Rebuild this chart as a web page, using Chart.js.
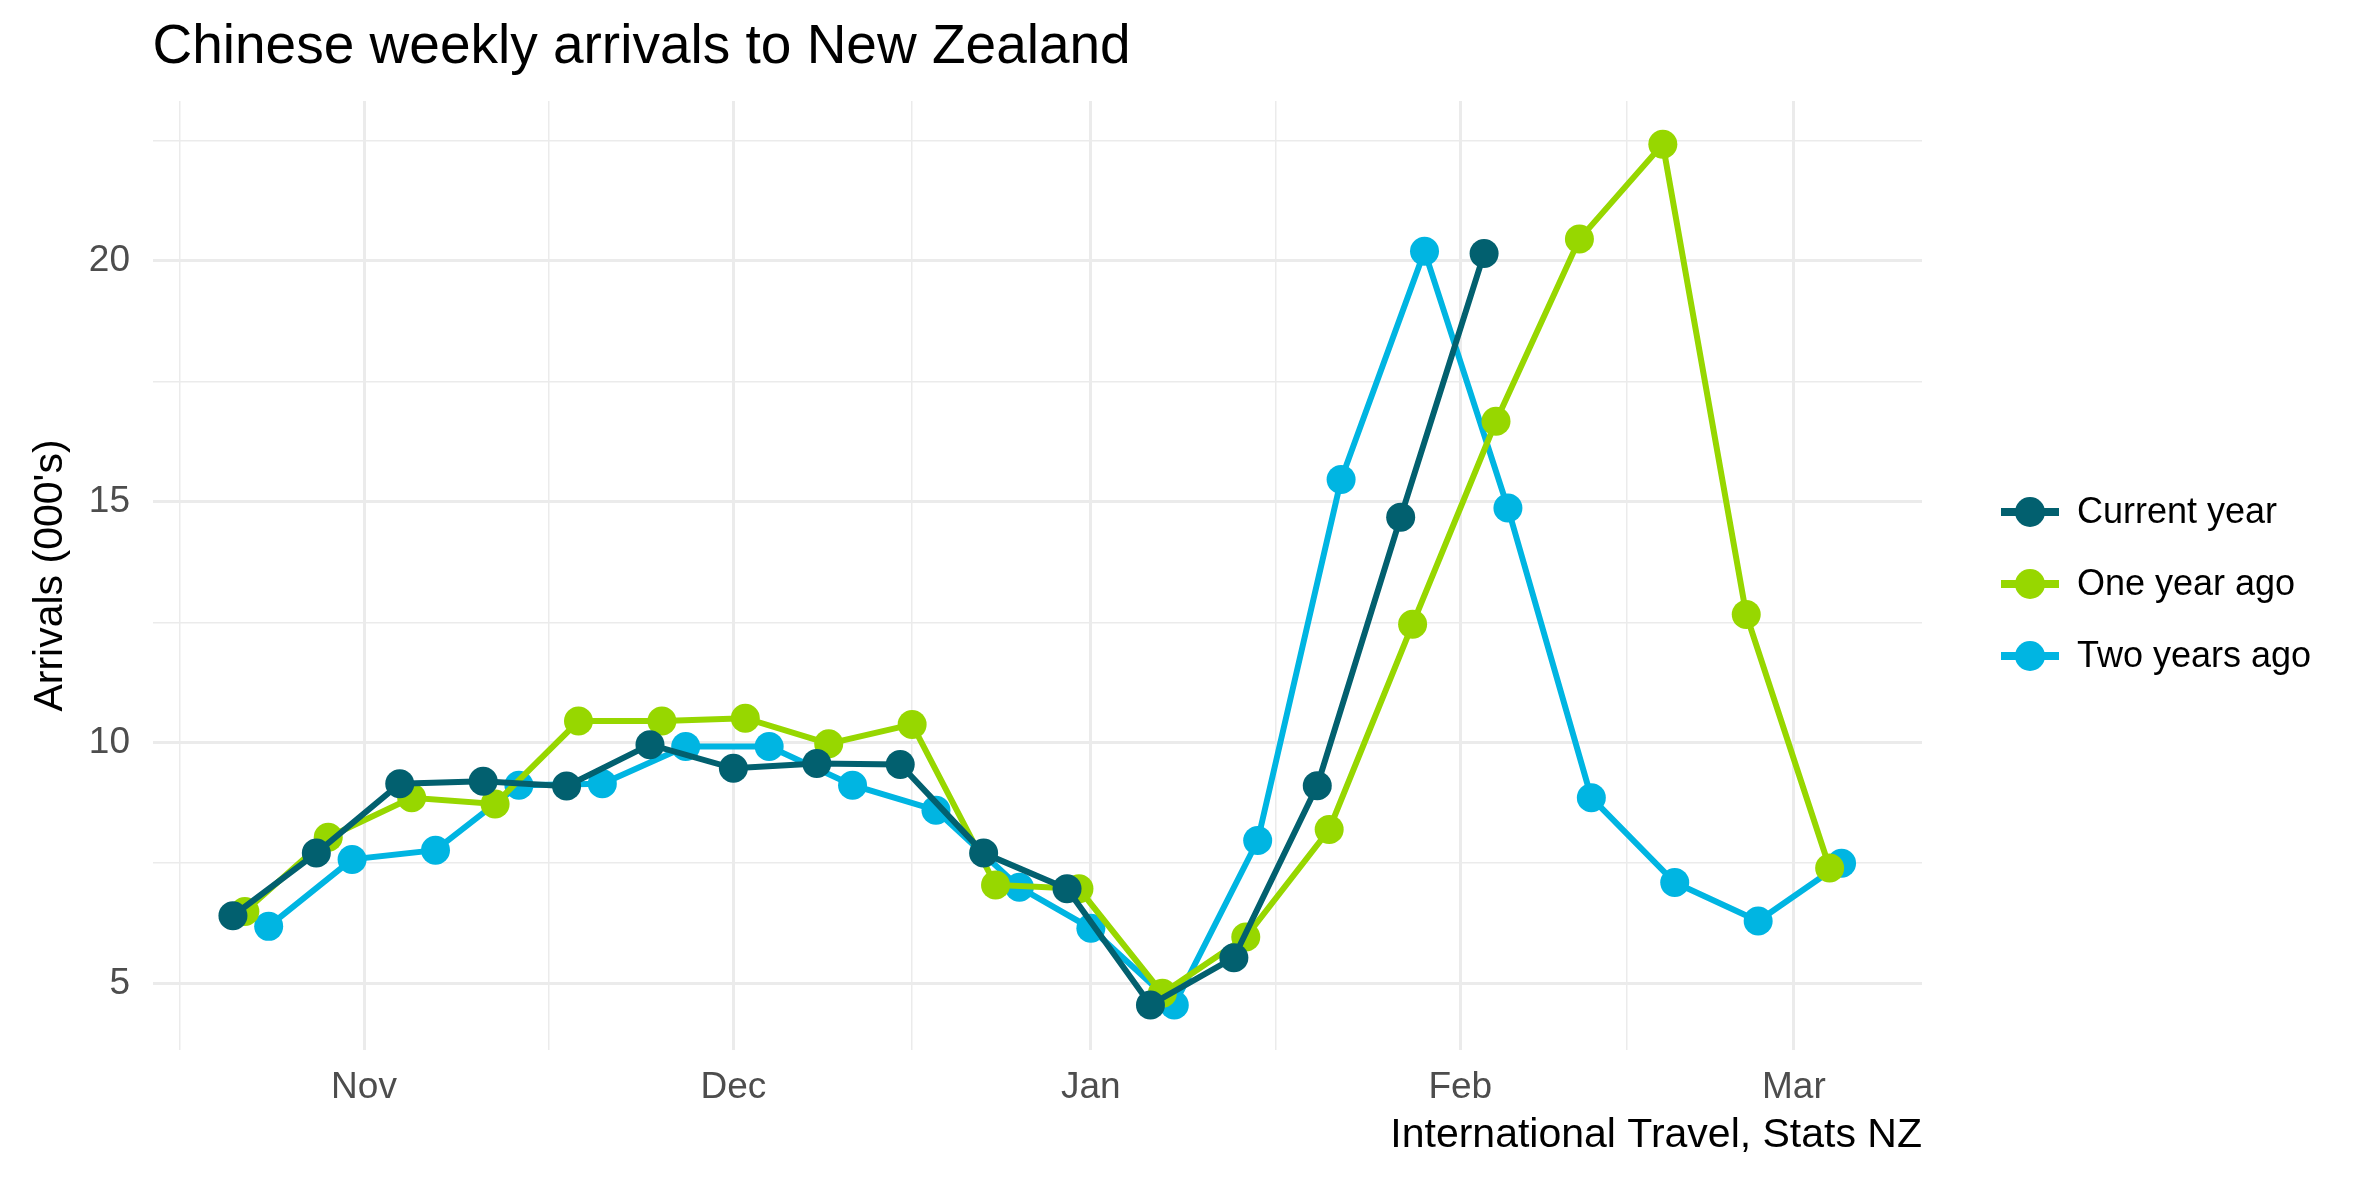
<!DOCTYPE html>
<html>
<head>
<meta charset="utf-8">
<script src="https://cdn.jsdelivr.net/npm/chart.js@4.4.0/dist/chart.umd.min.js"></script>
<style>
  html, body { margin: 0; padding: 0; background: #fff; }
  canvas { display: block; }
</style>
</head>
<body>
<canvas id="arrivals" width="2362" height="1181"></canvas>
<script>
// x values are days counted from the "Nov" gridline
const currentX = [-11, -4, 3, 10, 17, 24, 31, 38, 45, 52, 59, 66, 73, 80, 87, 94];
const currentY = [6.41, 7.71, 9.15, 9.20, 9.10, 9.96, 9.47, 9.57, 9.55, 7.71, 6.97, 4.56, 5.54, 9.11, 14.68, 20.15];

const oneYearX = [-10, -3, 4, 11, 18, 25, 32, 39, 46, 53, 60, 67, 74, 81, 88, 95, 102, 109, 116, 123];
const oneYearY = [6.50, 8.04, 8.86, 8.73, 10.45, 10.45, 10.51, 9.98, 10.38, 7.05, 6.97, 4.80, 5.97, 8.20, 12.46, 16.67, 20.45, 22.42, 12.66, 7.40];

const twoYearsX = [-8, -1, 6, 13, 20, 27, 34, 41, 48, 55, 61, 68, 75, 82, 89, 96, 103, 110, 117, 124];
const twoYearsY = [6.19, 7.58, 7.77, 9.12, 9.15, 9.92, 9.92, 9.12, 8.60, 7.00, 6.15, 4.56, 7.97, 15.46, 20.20, 14.87, 8.86, 7.10, 6.30, 7.50];

const seriesNames = ['Current year', 'One year ago', 'Two years ago'];
const seriesColors = ['#02606F', '#97D700', '#00B5E2'];

const xTickValues = [0, 31, 61, 92, 120];
const xTickLabels = ['Nov', 'Dec', 'Jan', 'Feb', 'Mar'];
const xMinorValues = [-15.5, 15.5, 46, 76.5, 106];

const yTickValues = [5, 10, 15, 20];
const yMinorValues = [7.5, 12.5, 17.5, 22.5];

const FONT = '"Liberation Sans", Arial, sans-serif';
const GRID = '#EBEBEB';

function toPoints(xs, ys) {
  return xs.map((x, i) => ({ x, y: ys[i] }));
}

function makeDataset(i, xs, ys) {
  return {
    label: seriesNames[i],
    data: toPoints(xs, ys),
    borderColor: seriesColors[i],
    backgroundColor: seriesColors[i],
    borderWidth: 6,
    pointRadius: 14.5,
    pointHoverRadius: 14.5,
    pointBorderWidth: 0,
    tension: 0
  };
}

// ggplot-like legend on the right: line with a dot, then the label
const sideLegend = {
  id: 'sideLegend',
  afterDraw(chart) {
    const ctx = chart.ctx;
    ctx.save();
    chart.data.datasets.forEach((ds, i) => {
      const y = 512 + i * 72;
      ctx.strokeStyle = ds.borderColor;
      ctx.lineWidth = 8;
      ctx.beginPath();
      ctx.moveTo(2001, y);
      ctx.lineTo(2059, y);
      ctx.stroke();
      ctx.fillStyle = ds.borderColor;
      ctx.beginPath();
      ctx.arc(2030, y, 15, 0, Math.PI * 2);
      ctx.fill();
      ctx.fillStyle = '#000';
      ctx.font = '36px ' + FONT;
      ctx.textAlign = 'left';
      ctx.textBaseline = 'middle';
      ctx.fillText(ds.label, 2077, y + 1);
    });
    ctx.restore();
  }
};

new Chart(document.getElementById('arrivals'), {
  type: 'line',
  data: {
    datasets: [
      makeDataset(0, currentX, currentY),
      makeDataset(1, oneYearX, oneYearY),
      makeDataset(2, twoYearsX, twoYearsY)
    ]
  },
  options: {
    responsive: false,
    animation: false,
    devicePixelRatio: 1,
    layout: { padding: { left: 0, top: 0, right: 440, bottom: 0 } },
    plugins: {
      legend: { display: false },
      tooltip: { enabled: false },
      title: {
        display: true,
        text: 'Chinese weekly arrivals to New Zealand',
        align: 'start',
        fullSize: false,
        color: '#000',
        font: { family: FONT, size: 55, weight: 'normal', lineHeight: 1.2 },
        padding: { top: 15, bottom: 20 }
      }
    },
    scales: {
      x: {
        type: 'linear',
        min: -17.75,
        max: 130.75,
        afterFit: s => { s.height = 131; },
        afterBuildTicks: s => {
          s.ticks = xTickValues.concat(xMinorValues).sort((a, b) => a - b).map(v => ({ value: v }));
        },
        ticks: {
          autoSkip: false,
          maxRotation: 0,
          padding: 16,
          color: '#4D4D4D',
          font: { family: FONT, size: 37 },
          callback: v => {
            const k = xTickValues.indexOf(v);
            return k >= 0 ? xTickLabels[k] : '';
          }
        },
        grid: {
          color: GRID,
          drawTicks: false,
          lineWidth: c => (xTickValues.includes(c.tick.value) ? 3 : 1.5)
        },
        border: { display: false },
        title: {
          display: true,
          text: 'International Travel, Stats NZ',
          align: 'end',
          color: '#000',
          font: { family: FONT, size: 41, lineHeight: 1.2 },
          padding: { top: 0, bottom: 21 }
        }
      },
      y: {
        type: 'linear',
        min: 3.625,
        max: 23.315,
        afterFit: s => { s.width = 152.5; },
        afterBuildTicks: s => {
          s.ticks = yTickValues.concat(yMinorValues).sort((a, b) => a - b).map(v => ({ value: v }));
        },
        ticks: {
          padding: 22.5,
          color: '#4D4D4D',
          font: { family: FONT, size: 37 },
          callback: v => (yTickValues.includes(v) ? String(v) : '')
        },
        grid: {
          color: GRID,
          drawTicks: false,
          lineWidth: c => (yTickValues.includes(c.tick.value) ? 3 : 1.5)
        },
        border: { display: false },
        title: {
          display: true,
          text: "Arrivals (000's)",
          color: '#000',
          font: { family: FONT, size: 41, lineHeight: 1.2 },
          padding: { top: 26, bottom: 0 }
        }
      }
    }
  },
  plugins: [sideLegend]
});
</script>
</body>
</html>
